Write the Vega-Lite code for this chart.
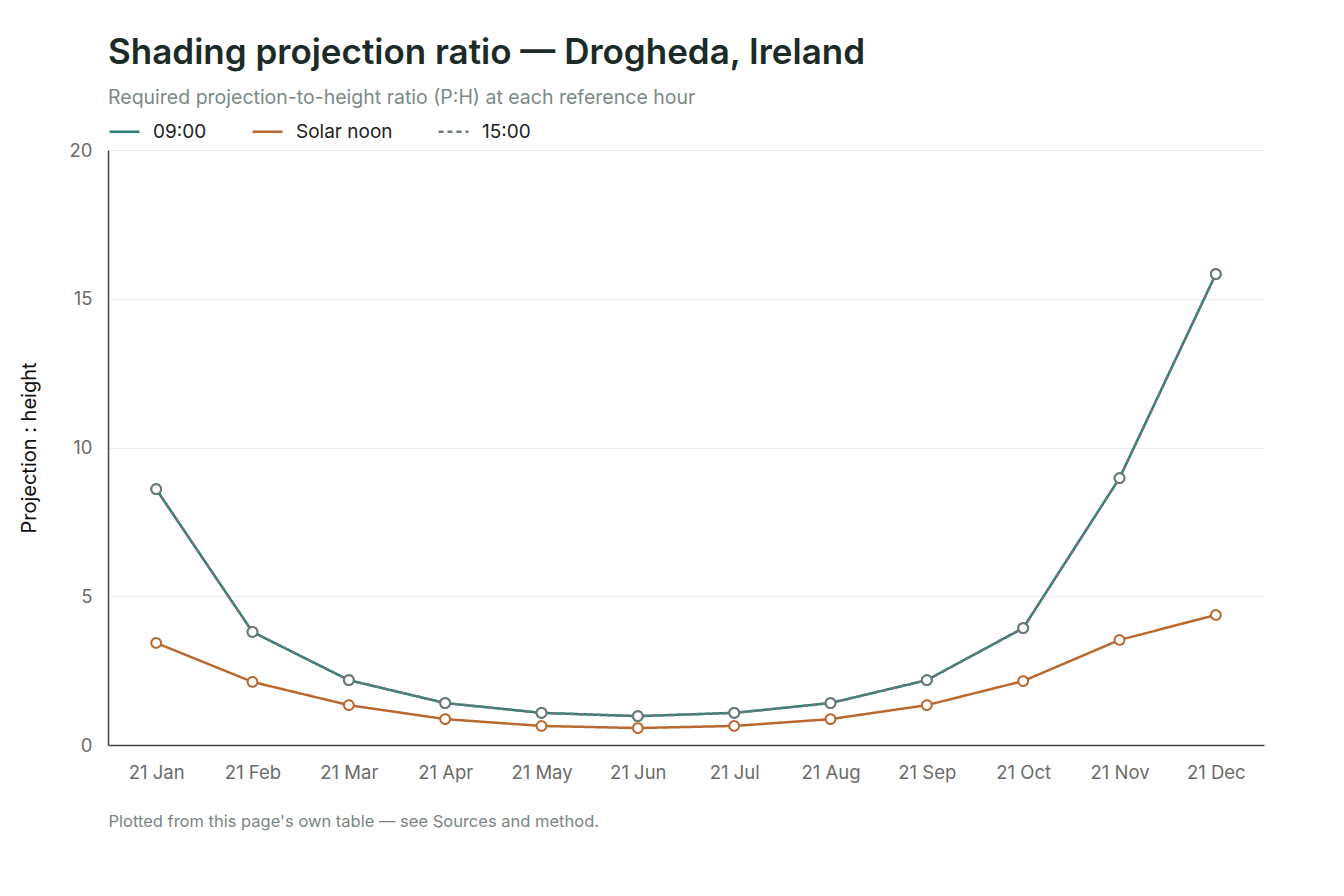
{
  "$schema": "https://vega.github.io/schema/vega-lite/v6.json",
  "autosize": {"type": "none"},
  "width": 1156,
  "height": 595,
  "padding": {"left": 108, "top": 150, "right": 80, "bottom": 151},
  "background": "white",
  "title": {
    "text": "Shading projection ratio — Drogheda, Ireland",
    "subtitle": "Required projection-to-height ratio (P:H) at each reference hour",
    "anchor": "start",
    "frame": "group",
    "font": "Inter",
    "fontSize": 35,
    "fontWeight": 600,
    "color": "#1c2b27",
    "subtitleFont": "Inter",
    "subtitleFontSize": 19.5,
    "subtitleColor": "#7b8a86",
    "subtitlePadding": 18,
    "offset": 8
  },
  "config": {
    "font": "Inter",
    "view": {"stroke": null},
    "axis": {
      "labelFont": "Inter",
      "labelFontSize": 18.5,
      "labelColor": "#6b6b6b",
      "ticks": false,
      "domainColor": "#444444",
      "domainWidth": 1.5,
      "gridColor": "#e9ecea"
    },
    "legend": {
      "labelFont": "Inter",
      "labelFontSize": 19,
      "labelColor": "#222222",
      "labelOffset": 12,
      "symbolType": "stroke",
      "symbolSize": 900,
      "symbolStrokeWidth": 2.5,
      "columnPadding": 40,
      "padding": 0,
      "offset": 8
    }
  },
  "data": {
    "values": [
      {"date": "21 Jan", "hour": "09:00", "ratio": 8.6},
      {"date": "21 Feb", "hour": "09:00", "ratio": 3.8},
      {"date": "21 Mar", "hour": "09:00", "ratio": 2.18},
      {"date": "21 Apr", "hour": "09:00", "ratio": 1.41},
      {"date": "21 May", "hour": "09:00", "ratio": 1.08},
      {"date": "21 Jun", "hour": "09:00", "ratio": 0.97},
      {"date": "21 Jul", "hour": "09:00", "ratio": 1.08},
      {"date": "21 Aug", "hour": "09:00", "ratio": 1.41},
      {"date": "21 Sep", "hour": "09:00", "ratio": 2.18},
      {"date": "21 Oct", "hour": "09:00", "ratio": 3.93},
      {"date": "21 Nov", "hour": "09:00", "ratio": 8.97},
      {"date": "21 Dec", "hour": "09:00", "ratio": 15.83},
      {"date": "21 Jan", "hour": "Solar noon", "ratio": 3.43},
      {"date": "21 Feb", "hour": "Solar noon", "ratio": 2.12},
      {"date": "21 Mar", "hour": "Solar noon", "ratio": 1.34},
      {"date": "21 Apr", "hour": "Solar noon", "ratio": 0.87},
      {"date": "21 May", "hour": "Solar noon", "ratio": 0.64},
      {"date": "21 Jun", "hour": "Solar noon", "ratio": 0.57},
      {"date": "21 Jul", "hour": "Solar noon", "ratio": 0.64},
      {"date": "21 Aug", "hour": "Solar noon", "ratio": 0.87},
      {"date": "21 Sep", "hour": "Solar noon", "ratio": 1.34},
      {"date": "21 Oct", "hour": "Solar noon", "ratio": 2.15},
      {"date": "21 Nov", "hour": "Solar noon", "ratio": 3.53},
      {"date": "21 Dec", "hour": "Solar noon", "ratio": 4.37},
      {"date": "21 Jan", "hour": "15:00", "ratio": 8.6},
      {"date": "21 Feb", "hour": "15:00", "ratio": 3.8},
      {"date": "21 Mar", "hour": "15:00", "ratio": 2.18},
      {"date": "21 Apr", "hour": "15:00", "ratio": 1.41},
      {"date": "21 May", "hour": "15:00", "ratio": 1.08},
      {"date": "21 Jun", "hour": "15:00", "ratio": 0.97},
      {"date": "21 Jul", "hour": "15:00", "ratio": 1.08},
      {"date": "21 Aug", "hour": "15:00", "ratio": 1.41},
      {"date": "21 Sep", "hour": "15:00", "ratio": 2.18},
      {"date": "21 Oct", "hour": "15:00", "ratio": 3.93},
      {"date": "21 Nov", "hour": "15:00", "ratio": 8.97},
      {"date": "21 Dec", "hour": "15:00", "ratio": 15.83}
    ]
  },
  "encoding": {
    "x": {
      "field": "date",
      "type": "ordinal",
      "sort": null,
      "scale": {"type": "point", "padding": 0.5},
      "axis": {
        "labelAngle": 0,
        "labelPadding": 18,
        "title": "Plotted from this page's own table — see Sources and method.",
        "titleAnchor": "start",
        "titleAlign": "left",
        "titleFont": "Inter",
        "titleFontSize": 16.5,
        "titleFontWeight": "normal",
        "titleColor": "#7b8683",
        "titlePadding": 32
      }
    },
    "y": {
      "field": "ratio",
      "type": "quantitative",
      "scale": {"domain": [0, 20]},
      "axis": {
        "values": [0, 5, 10, 15, 20],
        "title": "Projection : height",
        "titleFont": "Inter",
        "titleFontSize": 20,
        "titleFontWeight": "normal",
        "titleColor": "#111111",
        "titlePadding": 30,
        "labelPadding": 16
      }
    },
    "color": {
      "field": "hour",
      "type": "nominal",
      "sort": ["09:00", "Solar noon", "15:00"],
      "scale": {
        "domain": ["09:00", "Solar noon", "15:00"],
        "range": ["#2b7e7a", "#b9692f", "#6d7a77"]
      },
      "legend": {"title": null, "orient": "top", "direction": "horizontal"}
    },
    "strokeDash": {
      "field": "hour",
      "type": "nominal",
      "sort": ["09:00", "Solar noon", "15:00"],
      "scale": {
        "domain": ["09:00", "Solar noon", "15:00"],
        "range": [[1, 0], [1, 0], [5, 4]]
      },
      "legend": {"title": null, "orient": "top", "direction": "horizontal"}
    }
  },
  "layer": [
    {
      "mark": {"type": "line", "strokeWidth": 2.5}
    },
    {
      "mark": {"type": "point", "filled": true, "fill": "white", "size": 95, "strokeWidth": 2, "opacity": 1},
      "encoding": {
        "stroke": {"field": "hour", "type": "nominal", "scale": {"domain": ["09:00", "Solar noon", "15:00"], "range": ["#2b7e7a", "#b9692f", "#6d7a77"]}, "legend": null},
        "strokeDash": {"value": [1, 0]},
        "color": {"value": "white"}
      }
    }
  ]
}
